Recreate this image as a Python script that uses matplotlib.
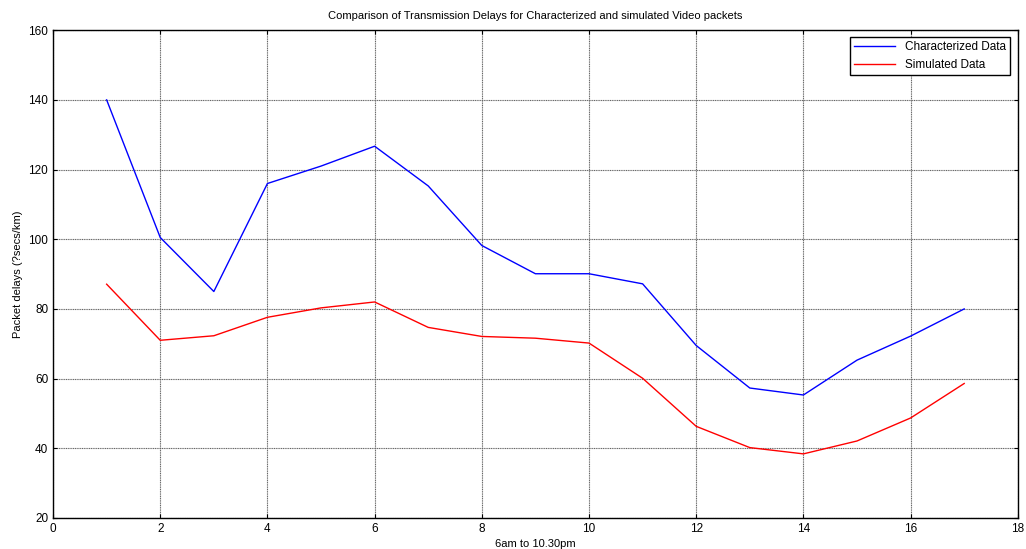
import matplotlib
matplotlib.use("Agg")
import matplotlib.pyplot as plt

plt.rcParams['font.family'] = ['Liberation Sans', 'DejaVu Sans']

x = list(range(1, 18))
characterized = [140, 100.5, 85, 116, 121, 126.7, 115.3, 98.2, 90.1, 90.1, 87.2, 69.5, 57.3, 55.3, 65.3, 72.2, 80]
simulated = [87.1, 71, 72.3, 77.6, 80.3, 82, 74.7, 72.1, 71.6, 70.2, 60.1, 46.3, 40.2, 38.4, 42.1, 48.7, 58.6]

fig = plt.figure(figsize=(10.26, 5.49), dpi=100)
ax = fig.add_axes([0.0517, 0.0565, 0.9403, 0.8885])

ax.plot(x, characterized, color='#0000ff', lw=1, label='Characterized Data')
ax.plot(x, simulated, color='#ff0000', lw=1, label='Simulated Data')

ax.set_xlim(0, 18)
ax.set_ylim(20, 160)
ax.set_xticks(range(0, 19, 2))
ax.set_yticks(range(20, 161, 20))
ax.grid(True, color='#666666', linestyle=(0, (1, 0.6)), lw=0.8)
ax.tick_params(direction='in', top=True, right=True, labelsize=8.5, length=3)
for s in ax.spines.values():
    s.set_linewidth(1)

ax.set_title('Comparison of Transmission Delays for Characterized and simulated Video packets', fontsize=8, pad=8)
ax.set_xlabel('6am to 10.30pm', fontsize=8, labelpad=3)
ax.set_ylabel('Packet delays (?secs/km)', fontsize=8, labelpad=4)

leg = ax.legend(loc='upper right', fontsize=8.5, fancybox=False, framealpha=1,
                edgecolor='black', borderpad=0.35, handlelength=3.5, bbox_to_anchor=(0.998, 0.998))
leg.get_frame().set_linewidth(1)

fig.savefig('out.png', dpi=100)
